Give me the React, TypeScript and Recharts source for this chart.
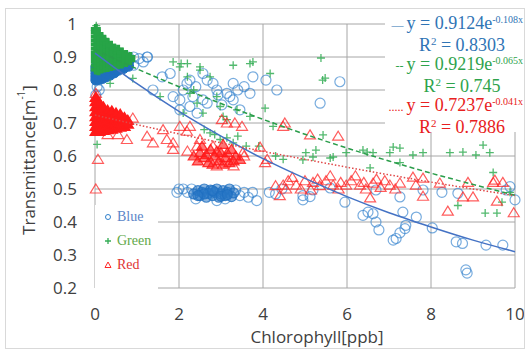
import { ScatterChart, Scatter, XAxis, YAxis, CartesianGrid, Legend, Label } from "recharts";

type Pt = [number, number];

// dense group of blue points near zero chlorophyll
const blueCluster: Pt[] = [
  [0.02, 0.83], [0.02, 0.84], [0.02, 0.85], [0.02, 0.86], [0.02, 0.87],
  [0.1, 0.832], [0.1, 0.842], [0.1, 0.852], [0.1, 0.862], [0.1, 0.872],
  [0.18, 0.835], [0.18, 0.845], [0.18, 0.855], [0.18, 0.865], [0.18, 0.875],
  [0.27, 0.84], [0.27, 0.85], [0.27, 0.86], [0.27, 0.87], [0.27, 0.88],
  [0.36, 0.845], [0.36, 0.855], [0.36, 0.865], [0.36, 0.875], [0.36, 0.885],
  [0.46, 0.852], [0.46, 0.862], [0.46, 0.872], [0.46, 0.882],
  [0.56, 0.86], [0.56, 0.87], [0.56, 0.88], [0.56, 0.89],
  [0.68, 0.865], [0.68, 0.875], [0.68, 0.885], [0.68, 0.895],
  [0.8, 0.872], [0.8, 0.885],
];

// packed blue band around 0.49
const blueBand: Pt[] = [
  [2.35, 0.485], [2.45, 0.495], [2.5, 0.48], [2.55, 0.49], [2.6, 0.5], [2.65, 0.475],
  [2.7, 0.487], [2.75, 0.497], [2.8, 0.48], [2.85, 0.49], [2.9, 0.5], [2.95, 0.475],
  [3.0, 0.485], [3.05, 0.495], [3.1, 0.48], [3.15, 0.49], [3.2, 0.5], [3.25, 0.477],
  [3.3, 0.488], [2.6, 0.485], [2.8, 0.495], [3.0, 0.478], [3.15, 0.483], [2.45, 0.48],
];

const bluePoints: Pt[] = [
  [0.02, 0.785], [0.05, 0.81], [0.1, 0.8], [0.92, 0.875], [0.92, 0.9], [1.05, 0.895],
  [1.25, 0.9], [1.15, 0.885], [0.8, 0.9],
  [1.24, 0.9], [1.79, 0.85], [2.19, 0.82], [2.26, 0.83], [2.57, 0.85], [2.67, 0.83],
  [2.81, 0.82], [2.93, 0.785], [3.14, 0.79], [3.21, 0.78], [3.29, 0.82], [3.29, 0.77],
  [3.4, 0.8], [3.45, 0.74], [3.69, 0.79], [3.76, 0.84], [4.07, 0.83], [1.38, 0.8],
  [1.86, 0.78], [2.02, 0.77], [2.02, 0.74], [2.26, 0.75], [2.33, 0.78], [2.43, 0.73],
  [2.57, 0.77], [2.67, 0.76], [3.02, 0.755], [4.33, 0.8], [5.36, 0.76], [5.83, 0.825],
  [2.4, 0.81], [2.1, 0.8], [1.6, 0.84], [2.9, 0.8], [3.55, 0.81],
  [2.1, 0.5], [2.2, 0.49], [2.3, 0.5], [3.35, 0.497], [3.45, 0.48], [3.55, 0.49],
  [3.65, 0.475], [3.75, 0.49], [3.85, 0.465], [2.4, 0.47], [2.9, 0.465], [3.1, 0.47],
  [1.95, 0.49], [2.0, 0.5], [4.15, 0.49], [4.3, 0.485], [4.45, 0.5],
  // right side
  [4.95, 0.48], [4.95, 0.467], [5.12, 0.477], [5.19, 0.497], [5.6, 0.503], [5.95, 0.46],
  [6.38, 0.42], [6.5, 0.43], [6.62, 0.425], [6.69, 0.4], [6.69, 0.497], [6.76, 0.376],
  [7.1, 0.345], [7.17, 0.35], [7.26, 0.367], [7.26, 0.476], [7.33, 0.43], [7.38, 0.38],
  [7.4, 0.39], [7.65, 0.415], [7.81, 0.497], [8.03, 0.382], [8.26, 0.49], [8.64, 0.487],
  [8.6, 0.34], [8.75, 0.335], [8.83, 0.255], [8.86, 0.245], [9.31, 0.33], [9.71, 0.33],
  [9.79, 0.497], [9.88, 0.507], [10, 0.467],
];

const greenCluster: Pt[] = [
  [0.02, 0.862], [0.02, 0.875], [0.02, 0.888], [0.02, 0.9], [0.02, 0.912], [0.02, 0.925],
  [0.02, 0.938], [0.02, 0.95], [0.02, 0.962], [0.02, 0.975], [0.02, 0.985],
  [0.08, 0.86], [0.08, 0.872], [0.08, 0.885], [0.08, 0.897], [0.08, 0.91], [0.08, 0.922],
  [0.08, 0.935], [0.08, 0.948], [0.08, 0.96], [0.08, 0.97],
  [0.15, 0.865], [0.15, 0.878], [0.15, 0.89], [0.15, 0.903], [0.15, 0.915], [0.15, 0.928],
  [0.15, 0.94], [0.15, 0.953], [0.15, 0.96],
  [0.22, 0.868], [0.22, 0.88], [0.22, 0.893], [0.22, 0.905], [0.22, 0.918], [0.22, 0.93],
  [0.22, 0.943], [0.22, 0.952],
  [0.3, 0.87], [0.3, 0.883], [0.3, 0.895], [0.3, 0.908], [0.3, 0.92], [0.3, 0.933], [0.3, 0.942],
  [0.38, 0.873], [0.38, 0.886], [0.38, 0.898], [0.38, 0.91], [0.38, 0.923], [0.38, 0.934],
  [0.46, 0.875], [0.46, 0.888], [0.46, 0.9], [0.46, 0.912], [0.46, 0.925],
  [0.55, 0.878], [0.55, 0.89], [0.55, 0.902], [0.55, 0.915], [0.55, 0.922],
  [0.64, 0.88], [0.64, 0.893], [0.64, 0.905], [0.64, 0.914],
  [0.74, 0.885], [0.74, 0.896], [0.74, 0.906],
  [0.84, 0.89], [0.84, 0.9],
];

const greenPoints: Pt[] = [
  [0.03, 0.995], [0.36, 0.82], [0.05, 0.635], [0.9, 0.835],
  [1.86, 0.885], [2.02, 0.87], [2.05, 0.88], [2.2, 0.88], [2.5, 0.86], [2.5, 0.87],
  [2.74, 0.84], [1.55, 0.78], [3.29, 0.875], [3.76, 0.885], [3.69, 0.88], [2.43, 0.76],
  [2.98, 0.75], [3.38, 0.74], [3.69, 0.72], [4.05, 0.745], [2.1, 0.73], [2.74, 0.67],
  [2.98, 0.65], [3.14, 0.655], [3.29, 0.64], [4.48, 0.59], [4.24, 0.69], [2.26, 0.79],
  [2.57, 0.73], [3.14, 0.71], [5.38, 0.897], [5.48, 0.836], [5.42, 0.83], [4.17, 0.85],
  [5.02, 0.61], [5.26, 0.618], [5.67, 0.597], [5.98, 0.61], [6.38, 0.618], [6.62, 0.61],
  [7.02, 0.61], [7.1, 0.627], [7.26, 0.624], [7.26, 0.58], [7.57, 0.603], [7.81, 0.61],
  [8.45, 0.61], [8.76, 0.612], [9.07, 0.603], [9.24, 0.633], [9.4, 0.61], [5.19, 0.597],
  [4.95, 0.588], [5.6, 0.594], [6.48, 0.612], [6.55, 0.564], [5.43, 0.664], [8.64, 0.45],
  [9.29, 0.427], [9.57, 0.427], [9.69, 0.46], [9.88, 0.49], [9.48, 0.55], [2.6, 0.68],
  [2.85, 0.665], [3.4, 0.66], [3.6, 0.63], [4.3, 0.6], [3.9, 0.63], [2.2, 0.84],
  [2.35, 0.8], [2.9, 0.78], [3.05, 0.72],
];

const redCluster: Pt[] = [
  [0.02, 0.675], [0.02, 0.69], [0.02, 0.705], [0.02, 0.72], [0.02, 0.735], [0.02, 0.75],
  [0.02, 0.765], [0.02, 0.778],
  [0.1, 0.675], [0.1, 0.69], [0.1, 0.705], [0.1, 0.72], [0.1, 0.735], [0.1, 0.75], [0.1, 0.762],
  [0.2, 0.678], [0.2, 0.693], [0.2, 0.708], [0.2, 0.722], [0.2, 0.737], [0.2, 0.748],
  [0.3, 0.68], [0.3, 0.695], [0.3, 0.71], [0.3, 0.725], [0.3, 0.738],
  [0.4, 0.682], [0.4, 0.697], [0.4, 0.712], [0.4, 0.727], [0.4, 0.736],
  [0.5, 0.685], [0.5, 0.7], [0.5, 0.715], [0.5, 0.73],
  [0.6, 0.688], [0.6, 0.702], [0.6, 0.716], [0.6, 0.726],
  [0.7, 0.69], [0.7, 0.705], [0.7, 0.716],
  [0.78, 0.697], [0.78, 0.708],
];

// packed red group between 2.3 and 3.5 ppb
const redBand: Pt[] = [
  [2.35, 0.6], [2.45, 0.585], [2.5, 0.61], [2.6, 0.595], [2.7, 0.58], [2.75, 0.62],
  [2.85, 0.6], [2.95, 0.585], [3.0, 0.61], [3.1, 0.595], [3.2, 0.58], [3.25, 0.62],
  [3.35, 0.6], [3.45, 0.59], [2.55, 0.63], [3.05, 0.635], [2.65, 0.605], [2.9, 0.615],
  [3.15, 0.61], [3.3, 0.585], [2.8, 0.575], [3.05, 0.575],
];

const redPoints: Pt[] = [
  [0.07, 0.59], [0.02, 0.5], [0.9, 0.715], [0.3, 0.665], [0.55, 0.665], [0.02, 0.79],
  [0.76, 0.65], [1.24, 0.66], [1.38, 0.64], [1.62, 0.68], [1.71, 0.65], [1.86, 0.62],
  [1.86, 0.64], [2.02, 0.69], [2.19, 0.675], [2.26, 0.69], [2.43, 0.63], [2.5, 0.65],
  [2.81, 0.63], [3.02, 0.71], [3.14, 0.7], [3.33, 0.7], [3.5, 0.69], [3.52, 0.61],
  [3.93, 0.627], [4.05, 0.58], [4.1, 0.59], [4.48, 0.69], [4.52, 0.7], [5.12, 0.664],
  [5.79, 0.66], [2.2, 0.615], [3.55, 0.6], [2.9, 0.57], [3.3, 0.57],
  [4.3, 0.51], [4.4, 0.48], [4.48, 0.512], [4.6, 0.525], [4.79, 0.512], [4.9, 0.5],
  [5.0, 0.525], [5.14, 0.497], [5.19, 0.52], [5.35, 0.51], [5.5, 0.525], [5.67, 0.512],
  [5.8, 0.5], [5.98, 0.512], [6.1, 0.525], [6.31, 0.512], [6.45, 0.5], [6.55, 0.473],
  [6.62, 0.518], [6.8, 0.505], [6.9, 0.525], [7.02, 0.512], [7.15, 0.5], [7.26, 0.518],
  [7.57, 0.536], [7.64, 0.512], [7.81, 0.533], [7.81, 0.478], [8.21, 0.518], [8.4, 0.433],
  [8.76, 0.476], [8.88, 0.52], [9.0, 0.476], [9.48, 0.52], [9.52, 0.527], [9.57, 0.463],
  [9.71, 0.52], [9.97, 0.428], [4.7, 0.535], [5.6, 0.54], [6.2, 0.54], [5.85, 0.52],
  [6.4, 0.52], [6.7, 0.53], [4.55, 0.5], [5.3, 0.53],
];

// trend lines read at integer chlorophyll values
const trendX = [0, 1, 2, 3, 4, 5, 6, 7, 8, 9, 10];
const blueTrend = [0.912, 0.819, 0.735, 0.66, 0.592, 0.532, 0.477, 0.428, 0.385, 0.345, 0.31];
const greenTrend = [0.922, 0.864, 0.81, 0.759, 0.711, 0.666, 0.624, 0.585, 0.548, 0.514, 0.481];
const redTrend = [0.724, 0.695, 0.667, 0.64, 0.614, 0.59, 0.566, 0.543, 0.521, 0.5, 0.48];

const xTicks = [0, 2, 4, 6, 8, 10];
const yTicks = [0.2, 0.3, 0.4, 0.5, 0.6, 0.7, 0.8, 0.9, 1];

const seriesNames = ["Blue", "Green", "Red"];
const equations = [
  { a: "0.9124", b: "-0.108x", r2: "0.8303", dash: "—" },
  { a: "0.9219", b: "-0.065x", r2: "0.745", dash: "--" },
  { a: "0.7237", b: "-0.041x", r2: "0.7886", dash: "....." },
];

const BLUE = "#2f7fcc";
const GREEN = "#34ad55";
const RED = "#ff2626";
const TEXT_COLORS = ["#2f74b5", "#2ea34c", "#e82020"];
const LEGEND_COLORS = ["#5b85c8", "#5fa84a", "#e03434"];
const TICK_FONT = { fill: "#404040", fontSize: 17, fontFamily: "Open Sans" };

const toData = (pts: Pt[]) => pts.map(([x, y]) => ({ x, y }));
const trendData = (vals: number[]) => trendX.map((x, i) => ({ x, y: vals[i] }));

const tri = (cx: number, cy: number) => `M${cx},${cy - 5}L${cx + 5.5},${cy + 4}L${cx - 5.5},${cy + 4}Z`;

const CircleMark = (p: any) => (
  <circle cx={p.cx} cy={p.cy} r={5} fill="none" stroke={BLUE} strokeOpacity={0.65} strokeWidth={1.2} />
);
const CircleDense = (p: any) => <circle cx={p.cx} cy={p.cy} r={5} fill="#1f6fc0" stroke="#1f6fc0" />;
const CircleBand = (p: any) => (
  <circle cx={p.cx} cy={p.cy} r={5} fill="#2a78c6" fillOpacity={0.55} stroke="#1f6fc0" strokeOpacity={0.8} strokeWidth={1.2} />
);
const PlusMark = (p: any) => (
  <path d={`M${p.cx - 4},${p.cy}h8M${p.cx},${p.cy - 4}v8`} stroke={GREEN} strokeOpacity={0.85} strokeWidth={1.3} />
);
const PlusDense = (p: any) => (
  <path d={`M${p.cx - 5},${p.cy}h10M${p.cx},${p.cy - 5}v10`} stroke="#27a447" strokeWidth={4} />
);
const TriMark = (p: any) => (
  <path d={tri(p.cx, p.cy)} fill="none" stroke={RED} strokeOpacity={0.75} strokeWidth={1.2} />
);
const TriDense = (p: any) => <path d={tri(p.cx, p.cy)} fill="#ff1a1a" stroke="#ff1a1a" strokeWidth={1.5} />;
const TriBand = (p: any) => (
  <path d={tri(p.cx, p.cy)} fill="#ff1a1a" fillOpacity={0.6} stroke="#ff1a1a" strokeOpacity={0.85} strokeWidth={1.2} />
);
const NoMark = () => <g />;

const LegendBox = () => (
  <div style={{ background: "#fff", width: 63, height: 85, fontFamily: "Liberation Serif", fontSize: 14 }}>
    {seriesNames.map((name, i) => (
      <div key={name} style={{ display: "flex", alignItems: "center", height: 24, paddingLeft: 8, color: LEGEND_COLORS[i] }}>
        <svg width={10} height={10} style={{ marginRight: 4 }}>
          {i === 0 && <circle cx={5} cy={5} r={2.5} fill="none" stroke={BLUE} />}
          {i === 1 && <path d="M2,5h6M5,2v6" stroke={GREEN} strokeWidth={1.3} />}
          {i === 2 && <path d="M5,2L8,7.5L2,7.5Z" fill="none" stroke={RED} />}
        </svg>
        {name}
      </div>
    ))}
  </div>
);

const XTitle = (props: any) => {
  const { x, width } = props.viewBox;
  return (
    <text x={x + width / 2 + 12} y={343} textAnchor="middle" fill="#404040" fontSize={17} fontFamily="Open Sans">
      Chlorophyll[ppb]
    </text>
  );
};

const YTitle = (props: any) => {
  const { y, height } = props.viewBox;
  const cy = y + height / 2 + 4;
  return (
    <text
      x={28}
      y={cy}
      transform={`rotate(-90 28 ${cy})`}
      textAnchor="middle"
      dominantBaseline="central"
      fill="#404040"
      fontSize={17}
      fontFamily="Open Sans"
    >
      Transmittance[m<tspan fontSize={10} dy={-7}>-1</tspan>
      <tspan dy={7}>]</tspan>
    </text>
  );
};

export default function App() {
  return (
    <div style={{ position: "relative", width: 526, height: 350, background: "#fff" }}>
      <style>{"body{margin:0}"}</style>
      <ScatterChart width={526} height={350} margin={{ top: 24, right: 11, bottom: 0, left: 0 }}>
        <CartesianGrid stroke="#a6a6a6" strokeWidth={1} />
        <XAxis
          type="number"
          dataKey="x"
          domain={[0, 10]}
          ticks={xTicks}
          axisLine={false}
          tickLine={false}
          tickSize={6}
          tickMargin={14}
          height={62}
          tick={TICK_FONT}
        >
          <Label content={XTitle} />
        </XAxis>
        <YAxis
          type="number"
          dataKey="y"
          domain={[0.2, 1]}
          ticks={yTicks}
          axisLine={false}
          tickLine={false}
          tickSize={6}
          tickMargin={12}
          width={95}
          tick={TICK_FONT}
          tickFormatter={(v: number) => (v === 1 ? "1" : v.toFixed(1))}
        >
          <Label content={YTitle} />
        </YAxis>
        <Legend
          layout="vertical"
          align="center"
          verticalAlign="middle"
          content={LegendBox}
          wrapperStyle={{ position: "absolute", left: 95, top: 205, width: 63, height: 85 }}
        />
        <Scatter name="Blue" data={toData(bluePoints)} shape={CircleMark} isAnimationActive={false} />
        <Scatter data={toData(blueBand)} shape={CircleBand} legendType="none" isAnimationActive={false} />
        <Scatter data={toData(blueCluster)} shape={CircleDense} legendType="none" isAnimationActive={false} />
        <Scatter name="Green" data={toData(greenPoints)} shape={PlusMark} isAnimationActive={false} />
        <Scatter data={toData(greenCluster)} shape={PlusDense} legendType="none" isAnimationActive={false} />
        <Scatter name="Red" data={toData(redPoints)} shape={TriMark} isAnimationActive={false} />
        <Scatter data={toData(redBand)} shape={TriBand} legendType="none" isAnimationActive={false} />
        <Scatter data={toData(redCluster)} shape={TriDense} legendType="none" isAnimationActive={false} />
        <Scatter
          data={trendData(blueTrend)}
          line={{ stroke: "#4472c4", strokeWidth: 1.5 }}
          lineJointType="monotoneX"
          shape={NoMark}
          legendType="none"
          isAnimationActive={false}
        />
        <Scatter
          data={trendData(greenTrend)}
          line={{ stroke: "#2a9d4a", strokeWidth: 1.5, strokeDasharray: "5 3" }}
          lineJointType="monotoneX"
          shape={NoMark}
          legendType="none"
          isAnimationActive={false}
        />
        <Scatter
          data={trendData(redTrend)}
          line={{ stroke: "#e04848", strokeWidth: 1.5, strokeDasharray: "1.5 2" }}
          lineJointType="monotoneX"
          shape={NoMark}
          legendType="none"
          isAnimationActive={false}
        />
      </ScatterChart>
      <div
        style={{
          position: "absolute",
          left: 385,
          top: 14,
          width: 140,
          height: 118,
          background: "#fff",
          fontFamily: "Liberation Serif",
          fontSize: 18,
          lineHeight: "19.5px",
        }}
      >
        {equations.map((eq, i) => (
          <div key={eq.a} style={{ color: TEXT_COLORS[i] }}>
            <div style={{ whiteSpace: "nowrap", textAlign: "right", paddingRight: 2 }}>
              <span style={{ fontSize: 12, marginRight: 3 }}>{eq.dash}</span>
              y = {eq.a}e<sup style={{ fontSize: 10, verticalAlign: 6, lineHeight: 0 }}>{eq.b}</sup>
            </div>
            <div style={{ textAlign: "center", paddingLeft: 14 }}>
              R<sup style={{ fontSize: 11, verticalAlign: 6, lineHeight: 0 }}>2</sup> = {eq.r2}
            </div>
          </div>
        ))}
      </div>
      <div
        style={{
          position: "absolute",
          left: 5,
          top: 8,
          width: 518,
          height: 339,
          border: "1px solid #d9d9d9",
          pointerEvents: "none",
        }}
      />
    </div>
  );
}
